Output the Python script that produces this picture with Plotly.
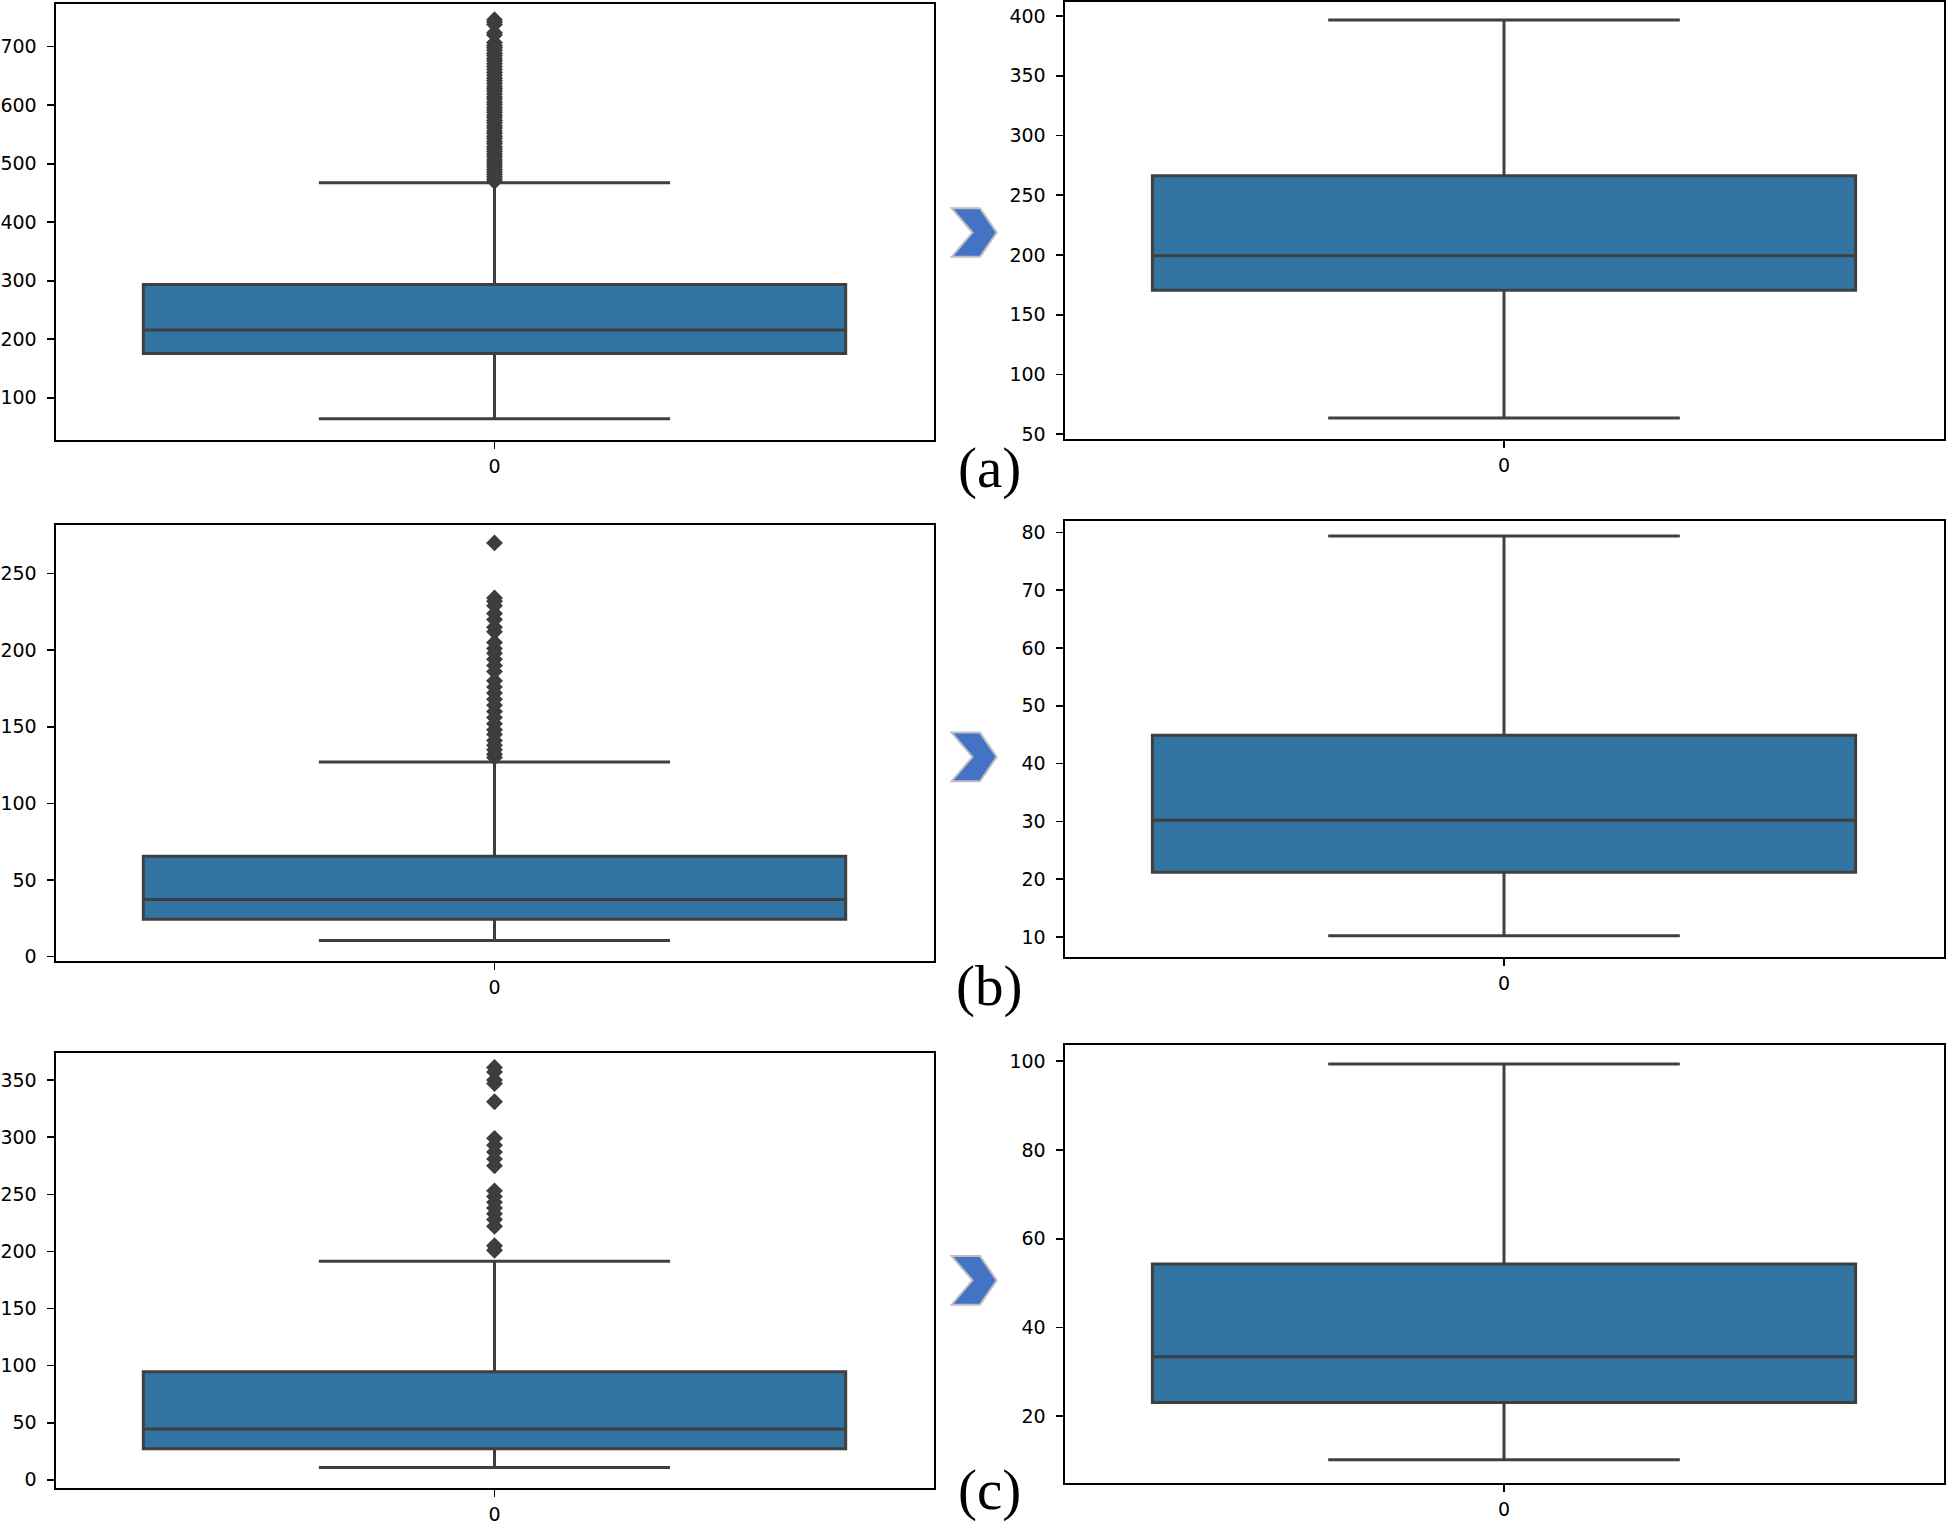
import plotly.graph_objects as go

W, H = 1946, 1529

# ---------------- data ----------------
panel_labels = ["(a)", "(b)", "(c)"]
category = ["0"]

# order: a-before, a-after, b-before, b-after, c-before, c-after
lower_fence = [64.1, 63.6, 10.5, 10.2, 10.9, 10.2]
q1_vals = [175.9, 170.4, 24.3, 21.2, 27.2, 23.1]
median_vals = [215.7, 199.3, 37.2, 30.2, 44.6, 33.4]
q3_vals = [293.8, 266.3, 65.5, 44.9, 94.6, 54.3]
upper_fence = [467.5, 396.7, 127.0, 79.4, 191.3, 99.4]

outliers_a = [746, 742, 738, 724, 720, 707, 702, 698, 694, 689, 685, 680, 676,
              671, 666, 661, 656, 651, 646, 642, 637, 632, 628, 624, 619, 614,
              610, 605, 601, 596, 592, 588, 583, 579, 574, 570, 565, 561, 556,
              552, 547, 543, 538, 534, 529, 525, 521, 516, 512, 507, 503, 499,
              495, 490, 486, 482, 478, 474, 470]
outliers_b = [270, 234, 232, 229, 224, 220, 215, 212, 205, 201, 198, 194, 190,
              186, 180, 176, 172, 168, 164, 160, 156, 152, 148, 145, 141, 138,
              135, 132, 130]
outliers_c = [361, 357, 350, 347, 331, 299, 293, 287, 281, 275, 253, 248, 243,
              238, 233, 228, 222, 205, 201]
outliers = [outliers_a, [], outliers_b, [], outliers_c, []]

y_ranges = [[27.7, 773.8], [45.6, 412.0], [-3.1, 281.6],
            [6.54, 81.9], [-6.9, 373.9], [5.0, 103.6]]
y_dticks = [100, 50, 50, 10, 50, 20]
y_tick0 = [100, 50, 0, 10, 0, 20]

# ---------------- layout geometry (pixels) ----------------
VK = 1 / 0.9958  # small vertical correction for the capture
col_x = [(55.5, 933.5), (1064.5, 1943.5)]
panel_y = [(3.5, 440.0), (1.7, 439.3), (525.0, 961.0),
           (521.3, 956.7), (1052.5, 1487.3), (1045.0, 1482.3)]

BOX_FILL = "#3274a1"
LINE_GREY = "#3f3f3f"

fig = go.Figure()
layout = dict(width=W, height=H, margin=dict(l=0, r=0, t=0, b=0),
              paper_bgcolor="white", plot_bgcolor="white", showlegend=False,
              font=dict(family="DejaVu Sans", size=19, color="#000000"))

for i in range(6):
    r, c = divmod(i, 2)
    sfx = "" if i == 0 else str(i + 1)
    xa, ya = "x" + sfx, "y" + sfx
    x0, x1 = col_x[c]
    top, bot = panel_y[i]
    top, bot = top * VK, min(bot * VK, H)
    layout["xaxis" + sfx] = dict(
        domain=[x0 / W, x1 / W], anchor=ya, range=[-0.5, 0.5],
        tickvals=[0], ticktext=category, ticks="outside", ticklen=7,
        tickwidth=1.6, tickcolor="black", showline=True, mirror=True,
        linecolor="black", linewidth=2, showgrid=False, zeroline=False,
        ticklabelstandoff=1, fixedrange=True)
    layout["yaxis" + sfx] = dict(
        domain=[1 - bot / H, 1 - top / H], anchor=xa, range=y_ranges[i],
        tick0=y_tick0[i], dtick=y_dticks[i], ticks="outside", ticklen=7,
        tickwidth=1.6, tickcolor="black", showline=True, mirror=True,
        linecolor="black", linewidth=2, showgrid=False, zeroline=False,
        ticklabelstandoff=6, fixedrange=True)

    fig.add_trace(go.Box(
        x=[0], q1=[q1_vals[i]], median=[median_vals[i]], q3=[q3_vals[i]],
        lowerfence=[lower_fence[i]], upperfence=[upper_fence[i]],
        width=0.8, whiskerwidth=0.5, fillcolor=BOX_FILL,
        line=dict(color=LINE_GREY, width=3), boxpoints=False,
        xaxis=xa, yaxis=ya, hoverinfo="skip", showlegend=False))
    if outliers[i]:
        fig.add_trace(go.Scatter(
            x=[0] * len(outliers[i]), y=outliers[i], mode="markers",
            marker=dict(symbol="diamond", size=13, color="#3d3d3d",
                        line=dict(width=0)),
            xaxis=xa, yaxis=ya, hoverinfo="skip", showlegend=False))

# chevron arrows and panel labels
def pt(x, y):
    return f"{x / W:.5f},{1 - (y * VK) / H:.5f}"

chevron_centers = [232.5, 756.7, 1280.0]
label_centers = [468.0, 986.0, None]  # last label sits on the bottom edge
shapes, annotations = [], []
for k in range(3):
    cy = chevron_centers[k]
    pts = [(951.7, cy - 24.3), (980.0, cy - 24.3), (996.7, cy),
           (980.0, cy + 24.3), (951.7, cy + 24.3), (972.5, cy)]
    path = "M " + " L ".join(pt(px, py) for px, py in pts) + " Z"
    shapes.append(dict(type="path", xref="paper", yref="paper", path=path,
                       fillcolor="#4472C4", line=dict(color="#BFBFBF", width=2)))
    if label_centers[k] is None:
        ypos, yanc = 0.0, "bottom"
    else:
        ypos, yanc = 1 - (label_centers[k] * VK) / H, "middle"
    annotations.append(dict(text=panel_labels[k], xref="paper", yref="paper",
                            x=989 / W, y=ypos, borderpad=0,
                            xanchor="center", yanchor=yanc, showarrow=False,
                            font=dict(family="Liberation Serif", size=57,
                                      color="black")))
layout["shapes"] = shapes
layout["annotations"] = annotations

fig.update_layout(**layout)
fig.write_html(
    "out.html",
    config={"displayModeBar": False, "staticPlot": True},
    post_script="document.body.style.margin='0';document.body.style.overflow='hidden';",
)
